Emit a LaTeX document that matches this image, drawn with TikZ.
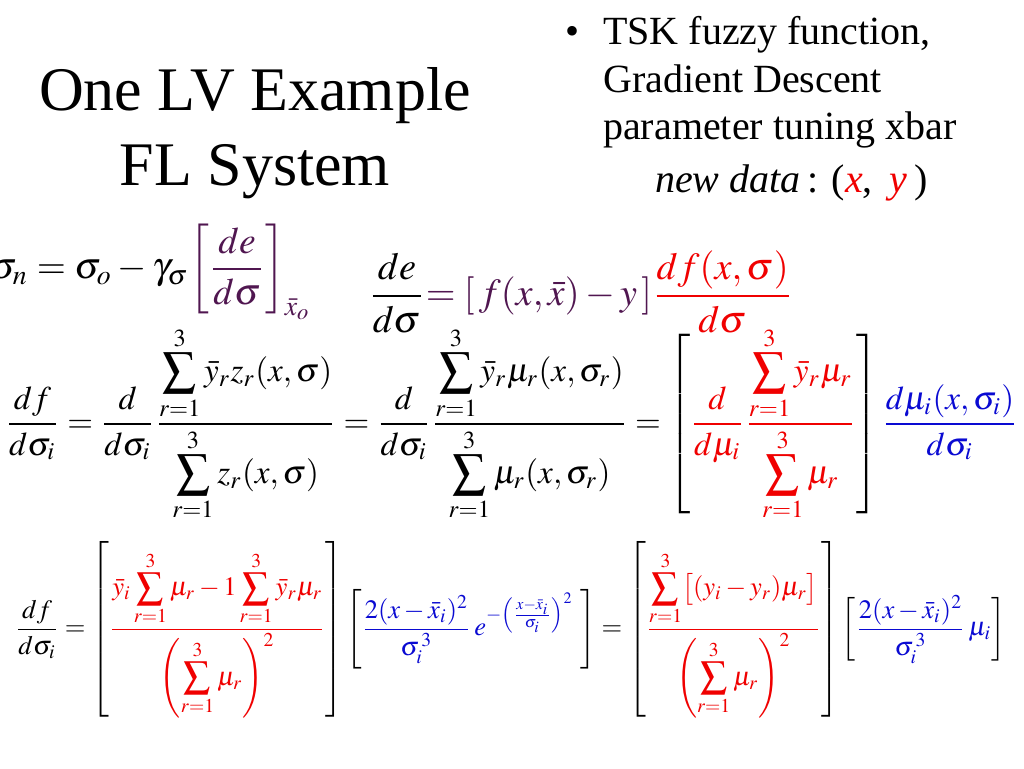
\documentclass[tikz,border=0pt]{standalone}
\usepackage{mathptmx}
\usepackage{amsmath}
\usepackage{graphicx}
\usepackage[no-math]{fontspec}
\setmainfont{Liberation Serif}
\definecolor{purp}{RGB}{80,22,80}
\definecolor{eqred}{RGB}{240,0,0}
\definecolor{eqblue}{RGB}{10,10,210}
\tikzset{
  titletext/.style={font=\fontsize{62}{72}\selectfont, align=center, inner sep=0pt},
  bullettext/.style={font=\fontsize{40}{47}\selectfont, anchor=base west, inner sep=0pt},
  eqn/.style={anchor=west, inner sep=0pt}
}
\begin{document}
\begin{tikzpicture}[x=1pt,y=-1pt]
\useasboundingbox (0,0) rectangle (1024,768);
\fill[white] (0,0) rectangle (1024,768);
% title
\node[titletext, anchor=base] (t1) at (255,110) {One LV Example};
\node[titletext, anchor=base] (t2) at (255,185) {FL System};
% bullet
\node[bullettext, anchor=base] (bul) at (572,45) {\textbullet};
\node[bullettext] (b1) at (603,45) {TSK fuzzy function,};
\node[bullettext] (b2) at (603,92) {Gradient Descent};
\node[bullettext] (b3) at (603,139) {parameter tuning xbar};
\node[bullettext] (b4) at (655,192) {\itshape new data\,\upshape:\,\,(\textcolor{eqred}{\itshape x},\, \textcolor{eqred}{\itshape y}\,)};
% equation 1
\node[eqn] (e1) at (-10,272) {\resizebox{322pt}{!}{$\sigma_n = \sigma_o - \gamma_\sigma \textcolor{purp}{\left[\dfrac{de}{d\sigma}\right]_{\bar{x}_o}}$}};
% equation 2
\node[eqn] (e2) at (368,292) {\resizebox{425pt}{!}{$\dfrac{de}{d\sigma} \textcolor{purp}{=[\,f(x,\bar{x}) - y\,]} \textcolor{eqred}{\dfrac{df(x,\sigma)}{d\sigma}}$}};
% equation 3
\node[eqn] (e3) at (5,424) {\resizebox{1013pt}{!}{$\dfrac{df}{d\sigma_i} = \dfrac{d}{d\sigma_i}\dfrac{\displaystyle\sum_{r=1}^{3}\bar{y}_r z_r(x,\sigma)}{\displaystyle\sum_{r=1}^{3} z_r(x,\sigma)} = \dfrac{d}{d\sigma_i}\dfrac{\displaystyle\sum_{r=1}^{3}\bar{y}_r\mu_r(x,\sigma_r)}{\displaystyle\sum_{r=1}^{3}\mu_r(x,\sigma_r)} = \left[\textcolor{eqred}{\dfrac{d}{d\mu_i}\dfrac{\displaystyle\sum_{r=1}^{3}\bar{y}_r\mu_r}{\displaystyle\sum_{r=1}^{3}\mu_r}}\right]\textcolor{eqblue}{\dfrac{d\mu_i(x,\sigma_i)}{d\sigma_i}}$}};
% equation 4
\node[eqn] (e4) at (15,630) {\resizebox{990pt}{!}{$\dfrac{df}{d\sigma_i} = \left[\textcolor{eqred}{\dfrac{\bar{y}_i\displaystyle\sum_{r=1}^{3}\mu_r - 1\displaystyle\sum_{r=1}^{3}\bar{y}_r\mu_r}{\left(\displaystyle\sum_{r=1}^{3}\mu_r\right)^{2}}}\right]\left[\textcolor{eqblue}{\dfrac{2(x-\bar{x}_i)^2}{\sigma_i^{\,3}}\, e^{-\left(\frac{x-\bar{x}_i}{\sigma_i}\right)^2}}\,\,\right] = \left[\textcolor{eqred}{\dfrac{\displaystyle\sum_{r=1}^{3}\bigl[(y_i - y_r)\mu_r\bigr]}{\left(\displaystyle\sum_{r=1}^{3}\mu_r\right)^{2}}}\right]\left[\textcolor{eqblue}{\dfrac{2(x-\bar{x}_i)^2}{\sigma_i^{\,3}}\,\mu_i}\right]$}};
\end{tikzpicture}
\end{document}
